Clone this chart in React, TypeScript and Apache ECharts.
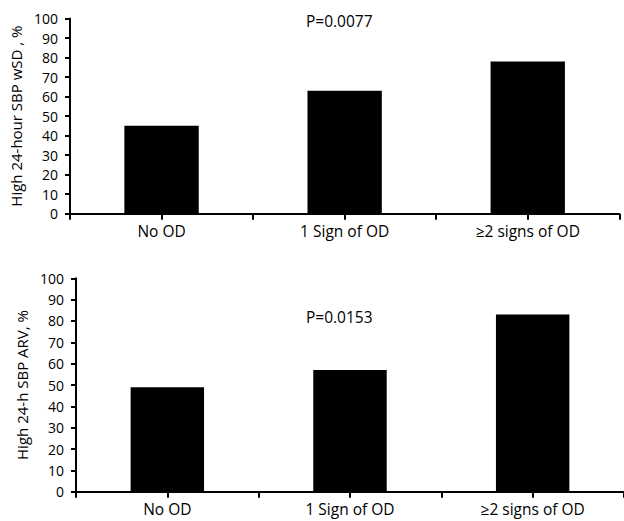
import React, { useEffect, useRef } from "react";
import * as echarts from "echarts";

const categories = ["No OD", "1 Sign of OD", "≥2 signs of OD"];
const topValues = [45, 63, 78];
const bottomValues = [49, 57, 83];
const yTicks = { min: 0, max: 100, interval: 10 };
const topYName = "High 24-hour SBP wSD , %";
const bottomYName = "High 24-h SBP ARV, %";
const topP = "P=0.0077";
const bottomP = "P=0.0153";

const FONT = "Open Sans";

export default function App() {
  const ref = useRef<HTMLDivElement>(null);
  useEffect(() => {
    if (!ref.current) return;
    const chart = echarts.init(ref.current, null, { renderer: "svg" });
    const axisLine = { show: true, lineStyle: { color: "#000", width: 2 } };
    const mkX = (gridIndex: number) => [
      {
        type: "category",
        gridIndex,
        data: categories,
        boundaryGap: true,
        axisLine,
        axisTick: { show: true, length: 6, alignWithLabel: false, interval: 0, lineStyle: { color: "#000", width: 2 } },
        axisLabel: { color: "#000", fontFamily: FONT, fontSize: 15.5, margin: 9, interval: 0 },
      },
      {
        type: "category",
        gridIndex,
        position: "bottom",
        data: categories,
        boundaryGap: true,
        axisLine: { show: false },
        axisTick: { show: true, length: 6, alignWithLabel: true, interval: 0, lineStyle: { color: "#000", width: 2 } },
        axisLabel: { show: false },
      },
    ];
    const mkY = (gridIndex: number, name: string, gap: number) => ({
      type: "value",
      gridIndex,
      min: yTicks.min,
      max: yTicks.max,
      interval: yTicks.interval,
      name,
      nameLocation: "middle",
      nameGap: gap,
      nameTextStyle: { color: "#000", fontFamily: FONT, fontSize: 15 },
      axisLine,
      axisTick: { show: true, length: 5, lineStyle: { color: "#000", width: 2 } },
      axisLabel: { color: "#000", fontFamily: FONT, fontSize: 14, lineHeight: 15, margin: 12 },
      splitLine: { show: false },
    });
    chart.setOption({
      animation: false,
      backgroundColor: "#fff",
      grid: [
        { left: 70, top: 18.5, width: 549.3, height: 195.2, containLabel: false },
        { left: 76, top: 278.3, width: 549, height: 213.4, containLabel: false },
      ],
      xAxis: [...mkX(0), ...mkX(1)],
      yAxis: [mkY(0, topYName, 44), mkY(1, bottomYName, 46)],
      series: [
        {
          type: "bar",
          xAxisIndex: 0,
          yAxisIndex: 0,
          data: topValues,
          barWidth: "40.6%",
          itemStyle: { color: "#000" },
        },
        {
          type: "bar",
          xAxisIndex: 2,
          yAxisIndex: 1,
          data: bottomValues,
          barWidth: "40.2%",
          itemStyle: { color: "#000" },
        },
      ],
      graphic: [
        {
          type: "text",
          left: 306,
          top: 13,
          style: { text: topP, fill: "#000", font: `15.5px "${FONT}"` },
        },
        {
          type: "text",
          left: 306,
          top: 309,
          style: { text: bottomP, fill: "#000", font: `15.5px "${FONT}"` },
        },
      ],
    });
    return () => chart.dispose();
  }, []);
  return (
    <div
      ref={ref}
      style={{ position: "fixed", left: 0, top: 0, width: 624, height: 521 }}
    />
  );
}
